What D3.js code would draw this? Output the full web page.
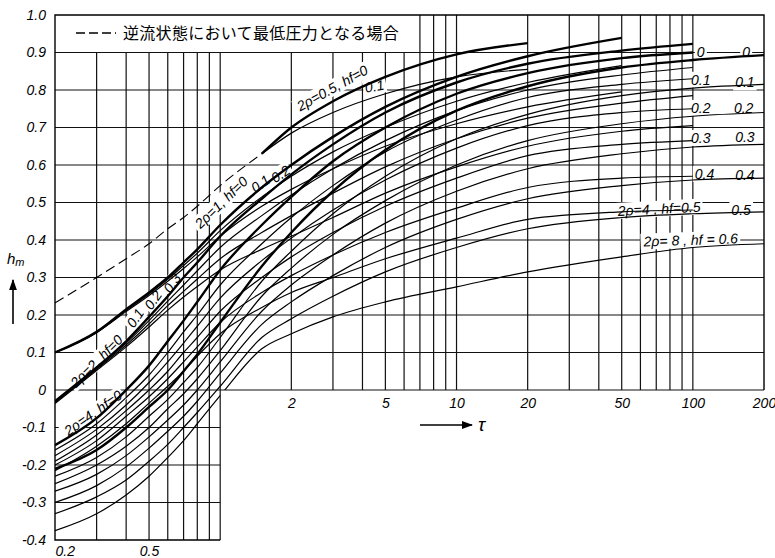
<!DOCTYPE html>
<html>
<head>
<meta charset="utf-8">
<script src="https://cdn.jsdelivr.net/npm/d3@7"></script>
<style>
  body { margin: 0; background: #fff; }
  svg { display: block; font-family: "Liberation Sans", Arial, sans-serif; }
  .lbl { font-style: italic; font-size: 14px; fill: #000; }
  .tick text { font-style: italic; font-size: 14px; fill: #000; }
</style>
</head>
<body>
<svg id="chart" width="775" height="558"></svg>
<script>
// tau grid the curves are read on
var tau = [0.2, 0.3, 0.4, 0.5, 0.6, 0.7, 0.8, 1, 1.5, 2, 3, 5, 10, 20, 50, 100, 200];
var N = null;

// dashed: minimum pressure reached in reverse flow
var reverseFlow = [0.232, 0.30, 0.35, 0.39, 0.43, 0.46, 0.49, 0.545, 0.63, N, N, N, N, N, N, N, N];

// 2rho = 0.5
var rho05hf0 = [N, N, N, N, N, N, N, N, 0.63, 0.70, 0.77, 0.835, 0.895, 0.925, N, N, N];
var rho05hf1 = [N, N, N, N, N, N, N, N, 0.63, 0.685, 0.74, 0.79, 0.835, 0.855, N, N, N];

// 2rho = 1
var rho1hf0 = [0.10, 0.155, 0.215, 0.26, 0.30, 0.34, 0.375, 0.44, 0.54, 0.60, 0.675, 0.755, 0.835, 0.89, 0.939, N, N];
var rho1hf1 = [0.10, 0.154, 0.212, 0.256, 0.295, 0.332, 0.365, 0.425, 0.515, 0.57, 0.635, 0.70, 0.77, 0.82, 0.865, N, N];
var rho1hf2 = [0.10, 0.153, 0.209, 0.252, 0.29, 0.324, 0.355, 0.41, 0.49, 0.535, 0.59, 0.65, 0.71, 0.755, 0.795, N, N];

// 2rho = 2
var rho2hf0 = [-0.03, 0.06, 0.13, 0.195, 0.25, 0.30, 0.34, 0.41, 0.51, 0.575, 0.655, 0.74, 0.82, 0.87, 0.905, 0.923, N];
var rho2hf1 = [-0.03, 0.058, 0.125, 0.185, 0.237, 0.28, 0.318, 0.38, 0.465, 0.52, 0.59, 0.665, 0.745, 0.80, 0.84, 0.86, N];
var rho2hf2 = [-0.033, 0.055, 0.12, 0.176, 0.225, 0.263, 0.296, 0.35, 0.42, 0.465, 0.525, 0.595, 0.67, 0.725, 0.765, 0.785, N];
var rho2hf3 = [-0.036, 0.052, 0.115, 0.168, 0.213, 0.248, 0.276, 0.32, 0.375, 0.41, 0.46, 0.525, 0.595, 0.65, 0.69, 0.705, N];

// 2rho = 4
var rho4hf0 = [-0.147, -0.075, 0.0, 0.065, 0.13, 0.185, 0.235, 0.32, 0.44, 0.515, 0.61, 0.70, 0.79, 0.845, 0.885, 0.90, N];
var rho4hf1 = [-0.16, -0.09, -0.02, 0.04, 0.10, 0.155, 0.20, 0.28, 0.39, 0.46, 0.545, 0.635, 0.72, 0.78, 0.815, 0.83, N];
var rho4hf2 = [-0.175, -0.105, -0.04, 0.02, 0.075, 0.125, 0.17, 0.245, 0.345, 0.405, 0.48, 0.56, 0.645, 0.705, 0.74, 0.75, N];
var rho4hf3 = [-0.19, -0.12, -0.055, 0.0, 0.05, 0.10, 0.14, 0.21, 0.30, 0.355, 0.42, 0.49, 0.565, 0.625, 0.655, 0.665, N];
var rho4hf4 = [-0.20, -0.135, -0.07, -0.018, 0.03, 0.075, 0.115, 0.18, 0.26, 0.305, 0.36, 0.42, 0.485, 0.54, 0.565, 0.57, N];
var rho4hf5 = [-0.215, -0.15, -0.09, -0.035, 0.01, 0.05, 0.09, 0.15, 0.22, 0.26, 0.30, 0.35, 0.405, 0.455, 0.475, 0.48, N];

// 2rho = 8
var rho8hf0 = [-0.21, -0.16, -0.10, -0.045, 0.0, 0.05, 0.095, 0.18, 0.33, 0.42, 0.53, 0.64, 0.745, 0.81, 0.86, 0.88, 0.893];
var rho8hf1 = [-0.23, -0.18, -0.125, -0.07, -0.025, 0.02, 0.06, 0.14, 0.29, 0.37, 0.47, 0.57, 0.67, 0.735, 0.785, 0.805, 0.815];
var rho8hf2 = [-0.25, -0.20, -0.15, -0.10, -0.05, -0.01, 0.03, 0.105, 0.25, 0.325, 0.415, 0.505, 0.60, 0.665, 0.71, 0.73, 0.74];
var rho8hf3 = [-0.27, -0.225, -0.175, -0.125, -0.08, -0.04, 0.0, 0.075, 0.21, 0.28, 0.36, 0.445, 0.53, 0.59, 0.63, 0.648, 0.655];
var rho8hf4 = [-0.30, -0.255, -0.205, -0.155, -0.11, -0.07, -0.03, 0.045, 0.175, 0.235, 0.305, 0.38, 0.455, 0.51, 0.545, 0.56, 0.565];
var rho8hf5 = [-0.33, -0.285, -0.24, -0.19, -0.145, -0.10, -0.06, 0.01, 0.14, 0.19, 0.25, 0.315, 0.38, 0.43, 0.46, 0.47, 0.475];
var rho8hf6 = [-0.375, -0.33, -0.28, -0.23, -0.18, -0.135, -0.09, -0.015, 0.11, 0.15, 0.195, 0.235, 0.275, 0.315, 0.355, 0.38, 0.39];

// grid and tick values
var gridTau = [0.3, 0.4, 0.5, 0.6, 0.7, 0.8, 0.9, 1, 2, 3, 4, 5, 6, 7, 8, 9, 10, 20, 30, 40, 50, 60, 70, 80, 90, 100];
var gridHm = [0.9, 0.8, 0.7, 0.6, 0.5, 0.4, 0.3, 0.2, 0.1, 0, -0.1, -0.2, -0.3];
var yTicks = [1.0, 0.9, 0.8, 0.7, 0.6, 0.5, 0.4, 0.3, 0.2, 0.1, 0, -0.1, -0.2, -0.3, -0.4];
var xTicksTop = [2, 5, 10, 20, 50, 100, 200];
var xTicksBottom = [0.2, 0.5];
var legendText = "逆流状態において最低圧力となる場合";

var thin = [rho05hf1, rho1hf1, rho1hf2, rho2hf1, rho2hf2, rho2hf3,
            rho4hf1, rho4hf2, rho4hf3, rho4hf4, rho4hf5,
            rho8hf1, rho8hf2, rho8hf3, rho8hf4, rho8hf5, rho8hf6];
var thick = [rho05hf0, rho1hf0, rho2hf0, rho4hf0, rho8hf0];

var svg = d3.select("#chart");
var x = d3.scaleLog().domain([0.2, 200]).range([55, 764]);
var y = d3.scaleLinear().domain([-0.4, 1.0]).range([540, 15]);

// clip: full upper field plus the lower-left box
var clip = svg.append("defs").append("clipPath").attr("id", "field");
clip.append("rect").attr("x", x(0.2)).attr("y", y(1)).attr("width", x(200) - x(0.2)).attr("height", y(0) - y(1));
clip.append("rect").attr("x", x(0.2)).attr("y", y(0)).attr("width", x(1) - x(0.2)).attr("height", y(-0.4) - y(0));

svg.select("defs").append("marker")
    .attr("id", "arr").attr("viewBox", "0 0 10 10").attr("refX", 9).attr("refY", 5)
    .attr("markerWidth", 7).attr("markerHeight", 7).attr("orient", "auto")
  .append("path").attr("d", "M0,1.5 L10,5 L0,8.5 Z").attr("fill", "#000");

var grid = svg.append("g").attr("stroke", "#111").attr("stroke-width", 1.2);
grid.selectAll(".vg").data(gridTau).enter().append("line")
    .attr("x1", function(d) { return x(d); })
    .attr("x2", function(d) { return x(d); })
    .attr("y1", function(d) { return y(d <= 6 ? 0.9 : 1.0); })
    .attr("y2", function(d) { return y(d <= 1 ? -0.4 : 0); });
grid.selectAll(".hg").data(gridHm).enter().append("line")
    .attr("x1", x(0.2))
    .attr("x2", function(d) { return x(d < 0 ? 1 : 200); })
    .attr("y1", function(d) { return y(d); })
    .attr("y2", function(d) { return y(d); });

// frame
svg.append("path")
    .attr("d", "M" + x(1) + "," + y(-0.4) + "H" + x(0.2) + "V" + y(1) + "H" + x(200) + "V" + y(0))
    .attr("fill", "none").attr("stroke", "#000").attr("stroke-width", 1.4);

// label backgrounds go here (above grid, below curves)
var bgLayer = svg.append("g");

var line = d3.line()
    .defined(function(d) { return d[1] != null; })
    .x(function(d) { return x(d[0]); })
    .y(function(d) { return y(d[1]); })
    .curve(d3.curveMonotoneX);

function pts(vals) { return tau.map(function(t, i) { return [t, vals[i]]; }); }

var curves = svg.append("g").attr("clip-path", "url(#field)").attr("fill", "none").attr("stroke", "#000");
curves.selectAll(".thin").data(thin).enter().append("path")
    .attr("d", function(d) { return line(pts(d)); })
    .attr("stroke-width", 1.2);
curves.selectAll(".thick").data(thick).enter().append("path")
    .attr("d", function(d) { return line(pts(d)); })
    .attr("stroke-width", 2.4);
curves.append("path")
    .attr("d", line(pts(reverseFlow)))
    .attr("stroke-width", 1.1)
    .attr("stroke-dasharray", "10,5");

// axes
var yAxis = d3.axisLeft(y).tickValues(yTicks).tickSize(0).tickPadding(9)
    .tickFormat(function(d) { return d === 0 ? "0" : d3.format(".1f")(d).replace("\u2212", "-"); });
svg.append("g").attr("transform", "translate(" + x(0.2) + ",0)").call(yAxis)
    .call(function(g) { g.select(".domain").remove(); });

var xTop = d3.axisBottom(x).tickValues(xTicksTop).tickSize(0).tickPadding(8).tickFormat(d3.format("d"));
svg.append("g").attr("transform", "translate(0," + y(0) + ")").call(xTop)
    .call(function(g) { g.select(".domain").remove(); });

var xBot = d3.axisBottom(x).tickValues(xTicksBottom).tickSize(0).tickPadding(6).tickFormat(d3.format(".1f"));
svg.append("g").attr("transform", "translate(0," + y(-0.4) + ")").call(xBot)
    .call(function(g) {
      g.select(".domain").remove();
      g.selectAll("text").filter(function(d) { return d === 0.2; }).attr("text-anchor", "start");
    });
svg.selectAll(".tick text").attr("font-family", null).attr("font-size", null);

// curve annotations, anchored in data coordinates
var notes = [
  {t: "2ρ=0.5, hf=0", tau: 2.98, hm: 0.805, rot: -29},
  {t: "0.1", tau: 4.5, hm: 0.81, rot: -10},
  {t: "2ρ=1, hf=0", tau: 1.01, hm: 0.50, rot: -44},
  {t: "0.1", tau: 1.48, hm: 0.55, rot: -35},
  {t: "0.2", tau: 1.8, hm: 0.576, rot: -35},
  {t: "2ρ=2, hf=0", tau: 0.30, hm: 0.077, rot: -45},
  {t: "0.1", tau: 0.437, hm: 0.192, rot: -55},
  {t: "0.2", tau: 0.52, hm: 0.24, rot: -55},
  {t: "0.3", tau: 0.626, hm: 0.285, rot: -55},
  {t: "2ρ=4, hf=0", tau: 0.29, hm: -0.061, rot: -35},
  {t: "0", tau: 108, hm: 0.901, rot: 0},
  {t: "0.1", tau: 108, hm: 0.827, rot: 0},
  {t: "0.2", tau: 108, hm: 0.752, rot: 0},
  {t: "0.3", tau: 108, hm: 0.672, rot: 0},
  {t: "0.4", tau: 112, hm: 0.576, rot: 0},
  {t: "2ρ=4 , hf=0.5", tau: 72, hm: 0.483, rot: -3},
  {t: "0", tau: 168, hm: 0.901, rot: 0},
  {t: "0.1", tau: 166, hm: 0.82, rot: 0},
  {t: "0.2", tau: 164, hm: 0.752, rot: 0},
  {t: "0.3", tau: 166, hm: 0.675, rot: 0},
  {t: "0.4", tau: 166, hm: 0.573, rot: 0},
  {t: "0.5", tau: 160, hm: 0.48, rot: 0},
  {t: "2ρ= 8 , hf = 0.6", tau: 98, hm: 0.40, rot: -2}
];

var textLayer = svg.append("g");
notes.forEach(function(n) {
  var tr = "translate(" + x(n.tau) + "," + y(n.hm) + ") rotate(" + n.rot + ")";
  var txt = textLayer.append("text").attr("class", "lbl").attr("transform", tr)
      .attr("text-anchor", "middle").attr("dy", "0.35em").text(n.t);
  var b = txt.node().getBBox();
  bgLayer.append("rect").attr("transform", tr)
      .attr("x", b.x - 2).attr("y", b.y).attr("width", b.width + 4).attr("height", b.height)
      .attr("fill", "#fff");
});

// legend box content
var leg = svg.append("g");
leg.append("rect").attr("x", 57).attr("y", 17).attr("width", 350).attr("height", 33).attr("fill", "#fff");
leg.append("line").attr("x1", 76).attr("x2", 116).attr("y1", 33).attr("y2", 33)
    .attr("stroke", "#000").attr("stroke-width", 1.4).attr("stroke-dasharray", "9,4");
leg.append("text").attr("x", 123).attr("y", 39)
    .attr("font-family", "'Noto Sans CJK JP', sans-serif").attr("font-size", 16)
    .attr("letter-spacing", 0.3).text(legendText);

// axis titles
var hm = svg.append("text").attr("x", 7).attr("y", 264)
    .attr("font-style", "italic").attr("font-size", 15).text("h");
hm.append("tspan").attr("font-size", 11).attr("dy", 2).text("m");
svg.append("line").attr("x1", 13).attr("x2", 13).attr("y1", 324).attr("y2", 280)
    .attr("stroke", "#000").attr("stroke-width", 1.6).attr("marker-end", "url(#arr)");
svg.append("line").attr("x1", 420).attr("x2", 472).attr("y1", 425).attr("y2", 425)
    .attr("stroke", "#000").attr("stroke-width", 1.6).attr("marker-end", "url(#arr)");
svg.append("text").attr("x", 478).attr("y", 431)
    .attr("font-style", "italic").attr("font-size", 19).text("τ");
</script>
</body>
</html>
